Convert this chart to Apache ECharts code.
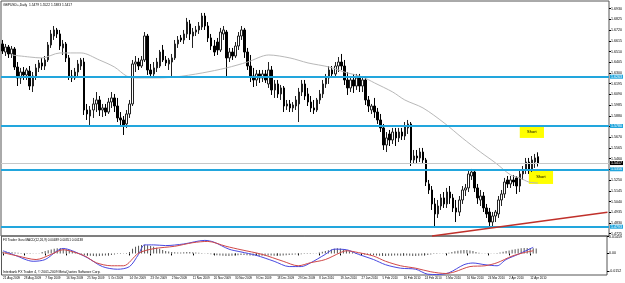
<!DOCTYPE html>
<html>
<head>
<meta charset="utf-8">
<script src="https://cdn.jsdelivr.net/npm/echarts@6/dist/echarts.min.js"></script>
<style>
  html, body { margin: 0; padding: 0; background: #fff; }
  #chart { width: 625px; height: 283px; }
</style>
</head>
<body>
<div id="chart"></div>
<script>
// GBPUSD+ daily bars, each row [open, high, low, close]
const candles = [
  [1.6584,1.6623,1.6486,1.6515],[1.6505,1.6584,1.6466,1.6554],[1.6554,1.6574,1.6447,1.6486],[1.6486,1.6564,1.6447,1.6535],
  [1.6535,1.6554,1.6329,1.6358],[1.6358,1.6407,1.6172,1.6251],[1.6251,1.6349,1.6192,1.6309],[1.6309,1.6358,1.6231,1.6280],
  [1.6280,1.6349,1.6231,1.6329],[1.6319,1.6368,1.6133,1.6172],[1.6172,1.6309,1.6113,1.6270],[1.6270,1.6388,1.6231,1.6349],
  [1.6349,1.6427,1.6309,1.6398],[1.6398,1.6447,1.6329,1.6368],[1.6368,1.6466,1.6329,1.6427],[1.6427,1.6603,1.6407,1.6574],
  [1.6574,1.6721,1.6545,1.6682],[1.6662,1.6760,1.6623,1.6721],[1.6721,1.6741,1.6643,1.6682],[1.6682,1.6721,1.6525,1.6564],
  [1.6545,1.6623,1.6476,1.6584],[1.6584,1.6603,1.6407,1.6447],[1.6447,1.6476,1.6231,1.6270],[1.6270,1.6329,1.6211,1.6251],
  [1.6251,1.6349,1.6231,1.6309],[1.6309,1.6427,1.6270,1.6388],[1.6368,1.6447,1.6329,1.6427],[1.6407,1.6447,1.5888,1.5937],
  [1.5937,1.5996,1.5839,1.5898],[1.5878,1.5976,1.5790,1.5937],[1.5937,1.6055,1.5859,1.5996],[1.5996,1.6113,1.5917,1.6035],
  [1.6035,1.6074,1.5878,1.5937],[1.5937,1.5996,1.5868,1.5957],[1.5957,1.5996,1.5878,1.5917],[1.5917,1.6055,1.5898,1.6015],
  [1.6015,1.6113,1.5957,1.6055],[1.6055,1.6094,1.5917,1.5976],[1.5976,1.6055,1.5819,1.5859],[1.5859,1.5917,1.5780,1.5839],
  [1.5839,1.5878,1.5692,1.5780],[1.5800,1.5937,1.5761,1.5898],[1.5898,1.6035,1.5859,1.5996],[1.5996,1.6427,1.5976,1.6388],
  [1.6388,1.6466,1.6309,1.6407],[1.6407,1.6447,1.6329,1.6368],[1.6368,1.6466,1.6349,1.6427],[1.6427,1.6701,1.6407,1.6662],
  [1.6662,1.6682,1.6280,1.6329],[1.6329,1.6388,1.6251,1.6290],[1.6290,1.6407,1.6251,1.6349],[1.6349,1.6447,1.6309,1.6407],
  [1.6368,1.6525,1.6349,1.6505],[1.6525,1.6574,1.6407,1.6427],[1.6427,1.6466,1.6368,1.6398],[1.6388,1.6447,1.6329,1.6427],
  [1.6407,1.6486,1.6260,1.6447],[1.6447,1.6623,1.6427,1.6584],[1.6584,1.6662,1.6545,1.6623],[1.6643,1.6672,1.6603,1.6623],
  [1.6623,1.6721,1.6584,1.6682],[1.6682,1.6839,1.6643,1.6799],[1.6780,1.6819,1.6623,1.6682],[1.6662,1.6741,1.6545,1.6701],
  [1.6701,1.6760,1.6662,1.6721],[1.6721,1.6799,1.6682,1.6760],[1.6750,1.6888,1.6721,1.6858],[1.6858,1.6888,1.6721,1.6760],
  [1.6760,1.6799,1.6603,1.6643],[1.6643,1.6682,1.6525,1.6564],[1.6564,1.6623,1.6466,1.6505],[1.6603,1.6643,1.6476,1.6525],
  [1.6525,1.6741,1.6505,1.6701],[1.6682,1.6760,1.6623,1.6721],[1.6701,1.6721,1.6260,1.6447],[1.6447,1.6545,1.6407,1.6505],
  [1.6505,1.6545,1.6427,1.6466],[1.6466,1.6603,1.6447,1.6564],[1.6564,1.6701,1.6525,1.6662],[1.6662,1.6760,1.6623,1.6721],
  [1.6721,1.6741,1.6447,1.6505],[1.6505,1.6545,1.6329,1.6368],[1.6368,1.6476,1.6211,1.6270],[1.6270,1.6349,1.6162,1.6231],
  [1.6231,1.6329,1.6172,1.6290],[1.6290,1.6329,1.6202,1.6251],[1.6251,1.6329,1.6211,1.6290],[1.6290,1.6329,1.6202,1.6231],
  [1.6192,1.6407,1.6153,1.6329],[1.6329,1.6368,1.6084,1.6133],[1.6133,1.6231,1.6055,1.6192],[1.6192,1.6231,1.6055,1.6094],
  [1.6094,1.6182,1.6035,1.6153],[1.6153,1.6172,1.5917,1.5976],[1.5976,1.6035,1.5937,1.5996],[1.5996,1.6035,1.5917,1.5957],
  [1.5957,1.6015,1.5917,1.5986],[1.5976,1.6074,1.5937,1.6035],[1.5996,1.6153,1.5819,1.6113],[1.6113,1.6231,1.6074,1.6192],
  [1.6192,1.6231,1.6035,1.6074],[1.6094,1.6153,1.5976,1.6015],[1.6015,1.6074,1.5917,1.5957],[1.5957,1.6035,1.5898,1.5937],
  [1.5937,1.6055,1.5917,1.6035],[1.6035,1.6133,1.5996,1.6094],[1.6094,1.6231,1.6055,1.6192],[1.6192,1.6290,1.6153,1.6251],
  [1.6251,1.6368,1.6192,1.6329],[1.6329,1.6368,1.6251,1.6290],[1.6290,1.6407,1.6251,1.6368],[1.6368,1.6456,1.6309,1.6407],
  [1.6407,1.6486,1.6329,1.6368],[1.6368,1.6427,1.6182,1.6231],[1.6231,1.6309,1.6084,1.6153],[1.6153,1.6270,1.6113,1.6231],
  [1.6231,1.6290,1.6104,1.6172],[1.6172,1.6290,1.6133,1.6251],[1.6251,1.6290,1.6113,1.6172],[1.6172,1.6270,1.6113,1.6231],
  [1.6231,1.6251,1.5986,1.6035],[1.6035,1.6074,1.5917,1.5976],[1.5937,1.5996,1.5898,1.5976],[1.5976,1.6055,1.5859,1.5917],
  [1.5917,1.5957,1.5800,1.5839],[1.5839,1.5898,1.5721,1.5761],[1.5761,1.5800,1.5545,1.5594],[1.5594,1.5721,1.5525,1.5663],
  [1.5702,1.5741,1.5584,1.5643],[1.5643,1.5761,1.5604,1.5721],[1.5721,1.5761,1.5584,1.5663],[1.5663,1.5761,1.5623,1.5721],
  [1.5721,1.5761,1.5643,1.5682],[1.5682,1.5819,1.5643,1.5780],[1.5761,1.5839,1.5702,1.5800],[1.5800,1.5819,1.5388,1.5447],
  [1.5447,1.5545,1.5408,1.5486],[1.5486,1.5545,1.5418,1.5467],[1.5467,1.5565,1.5427,1.5525],[1.5525,1.5565,1.5418,1.5447],
  [1.5447,1.5467,1.5192,1.5231],[1.5212,1.5251,1.5114,1.5153],[1.5153,1.5192,1.4957,1.5016],[1.5016,1.5075,1.4781,1.4918],
  [1.4918,1.5055,1.4879,1.4996],[1.4996,1.5114,1.4957,1.5075],[1.5075,1.5133,1.4977,1.5016],[1.5016,1.5173,1.4977,1.5133],
  [1.5133,1.5192,1.5016,1.5075],[1.5075,1.5114,1.4937,1.4977],[1.4977,1.5055,1.4839,1.4937],[1.4937,1.5094,1.4898,1.5055],
  [1.5055,1.5192,1.5016,1.5153],[1.5153,1.5212,1.5094,1.5173],[1.5173,1.5349,1.5133,1.5310],[1.5290,1.5359,1.5251,1.5329],
  [1.5329,1.5349,1.5133,1.5173],[1.5173,1.5212,1.5016,1.5075],[1.5055,1.5153,1.4996,1.5094],[1.5094,1.5133,1.4937,1.4977],
  [1.4977,1.5016,1.4879,1.4918],[1.4937,1.4977,1.4790,1.4839],[1.4839,1.4937,1.4790,1.4898],[1.4898,1.4957,1.4839,1.4937],
  [1.4918,1.5094,1.4879,1.5055],[1.5055,1.5153,1.4996,1.5114],[1.5114,1.5271,1.5075,1.5231],[1.5251,1.5290,1.5173,1.5212],
  [1.5212,1.5290,1.5173,1.5251],[1.5251,1.5300,1.5192,1.5231],[1.5271,1.5290,1.5114,1.5192],[1.5192,1.5349,1.5133,1.5310],
  [1.5310,1.5388,1.5251,1.5349],[1.5349,1.5467,1.5310,1.5427],[1.5427,1.5467,1.5310,1.5349],[1.5349,1.5486,1.5329,1.5447],
  [1.5427,1.5506,1.5369,1.5467],[1.5479,1.5522,1.5383,1.5417]
];

// one label every 7 bars
const dateLabels = [
  '21 Aug 2009', '28 Aug 2009', '7 Sep 2009', '16 Sep 2009', '25 Sep 2009', '5 Oct 2009', '14 Oct 2009',
  '23 Oct 2009', '2 Nov 2009', '11 Nov 2009', '20 Nov 2009', '30 Nov 2009', '9 Dec 2009', '18 Dec 2009',
  '29 Dec 2009', '8 Jan 2010', '19 Jan 2010', '27 Jan 2010', '5 Feb 2010', '16 Feb 2010', '24 Feb 2010',
  '5 Mar 2010', '16 Mar 2010', '24 Mar 2010', '2 Apr 2010', '12 Apr 2010'
];

const priceTicks = [
  1.4725, 1.4830, 1.4935, 1.5040, 1.5145, 1.5250, 1.5355, 1.5460, 1.5565, 1.5670, 1.5775,
  1.5880, 1.5985, 1.6090, 1.6195, 1.6300, 1.6405, 1.6510, 1.6615, 1.6720, 1.6825, 1.6930
];
const macdTicks = [0.01459, 0, -0.0152];

// horizontal support / resistance lines
const levels = [1.6263, 1.5780, 1.5356, 1.4793];
const lastPrice = 1.5417;
// rising trend line [bar, price]
const trendLine = [[142, 1.4702], [200, 1.4935]];
// "Short" notes: [fromBar, toBar, upper price, lower price]
const shortNotes = [[171, 179, 1.5775, 1.5663], [174, 182, 1.5349, 1.5212]];

// moving average, read at [bar, price]
const maLine = [
  [3,1.6476],[9,1.6456],[13,1.6447],[19,1.6496],[26,1.6496],[32,1.6427],[37,1.6358],[41,1.6270],
  [44,1.6251],[50,1.6251],[57,1.6260],[66,1.6300],[74,1.6349],[81,1.6407],[88,1.6476],[95,1.6447],
  [101,1.6398],[108,1.6358],[113,1.6309],[119,1.6260],[123,1.6202],[129,1.6113],[133,1.6035],[139,1.5957],
  [146,1.5810],[152,1.5663],[158,1.5525],[163,1.5418],[168,1.5300],[171,1.5271],[174,1.5231],[177,1.5221]
];

// MACD main (blue) and signal (red), read at [bar, value]
const macdMain = [
  [0,0.0023],[4,-0.0016],[10,-0.0068],[14,-0.0053],[18,0.0023],[20,0.0043],[23,0.0023],[28,-0.0037],
  [33,-0.0114],[38,-0.0137],[42,-0.0114],[45,-0.0008],[47,0.0074],[50,0.0074],[54,0.0068],[60,0.0082],
  [67,0.0113],[70,0.0098],[75,0.0037],[79,0.0013],[84,-0.0016],[90,-0.0068],[95,-0.0114],[99,-0.0114],
  [102,-0.0083],[107,-0.0008],[110,0.0037],[114,0.0032],[118,-0.0008],[123,-0.0053],[127,-0.0098],[132,-0.0128],
  [137,-0.0137],[141,-0.0180],[144,-0.0183],[148,-0.0168],[153,-0.0098],[156,-0.0083],[160,-0.0098],[164,-0.0107],
  [167,-0.0053],[171,-0.0008],[176,0.0053]
];
const macdSignal = [
  [0,0.0007],[5,-0.0023],[11,-0.0053],[16,-0.0008],[20,0.0032],[22,0.0023],[27,-0.0020],[31,-0.0081],
  [36,-0.0107],[40,-0.0107],[45,0.0002],[50,0.0041],[57,0.0062],[63,0.0093],[68,0.0104],[74,0.0062],
  [79,0.0032],[86,-0.0008],[93,-0.0068],[98,-0.0107],[102,-0.0081],[107,-0.0053],[112,0.0007],[114,0.0023],
  [118,0.0007],[123,-0.0023],[127,-0.0068],[132,-0.0107],[137,-0.0128],[142,-0.0159],[147,-0.0174],[150,-0.0159],
  [155,-0.0114],[160,-0.0107],[164,-0.0081],[169,-0.0023],[173,0.0007],[176,0.0023]
];
// histogram, one value per bar
const macdHist = [
  0.0015,0.0014,0.0012,0.0010,0.0008,0.0005,0.0003,
  -0.0003,-0.0005,-0.0004,-0.0003,-0.0002,0.0002,
  0.0012,0.0020,0.0028,0.0034,0.0040,0.0044,0.0046,0.0042,0.0036,0.0028,
  0.0018,0.0008,-0.0004,-0.0010,-0.0014,-0.0018,-0.0020,-0.0022,-0.0024,-0.0022,-0.0020,-0.0018,-0.0016,-0.0014,-0.0010,
  -0.0006,-0.0004,-0.0002,0.0004,0.0012,
  0.0040,0.0058,0.0066,0.0072,0.0076,0.0070,0.0064,0.0058,0.0050,0.0040,0.0030,
  0.0022,0.0016,0.0012,0.0010,0.0008,0.0008,0.0010,0.0012,0.0012,0.0010,0.0008,0.0006,0.0004,0.0002,
  -0.0004,-0.0008,-0.0012,-0.0016,-0.0018,-0.0020,-0.0022,-0.0022,-0.0020,-0.0018,
  -0.0016,-0.0014,-0.0014,-0.0016,-0.0018,-0.0020,-0.0022,-0.0022,-0.0020,-0.0020,
  -0.0018,-0.0018,-0.0020,-0.0022,-0.0020,-0.0018,-0.0016,-0.0014,-0.0012,-0.0010,
  -0.0010,-0.0008,-0.0006,-0.0006,-0.0004,-0.0002,0.0002,0.0008,0.0014,0.0020,
  0.0028,0.0034,0.0040,0.0044,0.0042,0.0036,0.0028,0.0018,
  0.0010,0.0004,-0.0002,-0.0006,-0.0010,-0.0012,
  -0.0014,-0.0016,-0.0018,-0.0020,-0.0022,-0.0022,-0.0020,-0.0020,-0.0018,-0.0018,
  -0.0020,-0.0020,-0.0018,-0.0020,-0.0022,-0.0022,-0.0020,-0.0018,-0.0016,-0.0014,
  -0.0010,-0.0006,-0.0004,-0.0002,0.0002,0.0004,0.0006,
  0.0012,0.0018,0.0024,0.0028,0.0030,0.0030,0.0026,0.0020,0.0012,
  0.0006,0.0002,-0.0002,-0.0004,-0.0002,0.0002,0.0004,0.0008,
  0.0014,0.0020,0.0026,0.0032,0.0036,0.0040,0.0044,0.0046,0.0048,0.0046,0.0044,0.0042
];

// chart shift: empty slots to the right of the last bar
const totalSlots = 201;
const slots = [];
for (let i = 0; i < totalSlots; i++) slots.push(String(i));

const FONT = 'Liberation Sans';
const LEVEL_BLUE = '#22a6dd';
const tiny = { fontSize: 3.6, fontFamily: FONT, color: '#000' };

const isDateSlot = (idx) => idx % 7 === 0 && idx / 7 < dateLabels.length;

const chart = echarts.init(document.getElementById('chart'), null, { renderer: 'canvas' });

chart.setOption({
  animation: false,
  backgroundColor: '#fff',
  grid: [
    { left: 1, right: 15, top: 1, height: 235, show: true, borderColor: '#555', borderWidth: 1 },
    { left: 1, right: 15, top: 236, height: 39, show: true, borderColor: '#555', borderWidth: 1 }
  ],
  xAxis: [
    {
      type: 'category', gridIndex: 0, data: slots, boundaryGap: true,
      axisLine: { show: false }, axisTick: { show: false }, axisLabel: { show: false }, splitLine: { show: false }
    },
    {
      type: 'category', gridIndex: 1, data: slots, boundaryGap: true,
      axisLine: { show: false },
      axisTick: { show: true, interval: isDateSlot, length: 2, alignWithLabel: true, lineStyle: { color: '#000' } },
      axisLabel: Object.assign({
        interval: isDateSlot, margin: 2, align: 'left',
        formatter: (v, idx) => dateLabels[idx / 7] || ''
      }, tiny, { fontSize: 3 }),
      splitLine: { show: false }
    }
  ],
  yAxis: [
    {
      type: 'value', gridIndex: 0, position: 'right', min: 1.4702, max: 1.7005,
      splitLine: { show: false },
      axisLine: { show: false },
      axisTick: { show: true, customValues: priceTicks, length: 2, lineStyle: { color: '#000' } },
      axisLabel: Object.assign({ customValues: priceTicks, margin: 2, formatter: (v) => v.toFixed(4) }, tiny)
    },
    {
      type: 'value', gridIndex: 1, position: 'right', min: -0.0187, max: 0.0151,
      splitLine: { show: false },
      axisLine: { show: false },
      axisTick: { show: true, customValues: macdTicks, length: 2, lineStyle: { color: '#000' } },
      axisLabel: Object.assign({ customValues: macdTicks, margin: 2, formatter: (v) => (v === 0 ? '0.00' : String(v)) }, tiny)
    }
  ],
  series: [
    {
      name: 'GBPUSD+', type: 'candlestick', xAxisIndex: 0, yAxisIndex: 0, barWidth: 2,
      data: candles.map(([o, h, l, c]) => [o, c, l, h]),
      itemStyle: { color: '#fff', color0: '#000', borderColor: '#222', borderColor0: '#000', borderWidth: 1 },
      markArea: {
        silent: true,
        itemStyle: { color: '#ffff00', opacity: 1 },
        label: Object.assign({ show: true, position: 'inside', formatter: 'Short' }, tiny, { fontSize: 4 }),
        data: shortNotes.map(([a, b, top, bottom]) => [{ xAxis: a, yAxis: top }, { xAxis: b, yAxis: bottom }])
      },
      markLine: {
        silent: true,
        precision: 4,
        symbol: ['none', 'none'],
        data: [
          {
            yAxis: lastPrice,
            lineStyle: { color: '#c8c8c8', width: 1, type: 'solid' },
            label: Object.assign({ show: true, position: 'end', distance: 1, backgroundColor: '#000', padding: [0, 1],
              formatter: () => lastPrice.toFixed(4) }, tiny, { color: '#fff' })
          },
          ...levels.map((v) => ({
            yAxis: v,
            lineStyle: { color: LEVEL_BLUE, width: 2, type: 'solid' },
            label: Object.assign({ show: true, position: 'end', distance: 1, backgroundColor: LEVEL_BLUE, padding: [0, 1],
              formatter: () => v.toFixed(4) }, tiny, { color: '#fff' })
          })),
          [
            { coord: trendLine[0], lineStyle: { color: '#c0302a', width: 1.5, type: 'solid' }, label: { show: false } },
            { coord: trendLine[1] }
          ]
        ]
      }
    },
    {
      name: 'MA', type: 'line', xAxisIndex: 0, yAxisIndex: 0, data: maLine,
      symbol: 'none', smooth: 0.3, silent: true,
      lineStyle: { color: '#b8b8b8', width: 1 }
    },
    {
      name: 'Histogram', type: 'bar', xAxisIndex: 1, yAxisIndex: 1, data: macdHist,
      barWidth: 1, silent: true, itemStyle: { color: '#555' }
    },
    {
      name: 'MACD', type: 'line', xAxisIndex: 1, yAxisIndex: 1, data: macdMain,
      symbol: 'none', smooth: 0.3, silent: true, lineStyle: { color: '#4848e0', width: 1 }
    },
    {
      name: 'Signal', type: 'line', xAxisIndex: 1, yAxisIndex: 1, data: macdSignal,
      symbol: 'none', smooth: 0.3, silent: true, lineStyle: { color: '#d04848', width: 1 }
    }
  ],
  graphic: [
    { type: 'text', left: 3, top: 4, style: { text: 'GBPUSD+,Daily  1.5479 1.5522 1.5383 1.5417', fontSize: 3.3, fontFamily: FONT, fill: '#000' } },
    { type: 'text', left: 3, top: 239, style: { text: 'FX Trader Guru MACD(12,26,9) 0.00489 0.00351 0.00138', fontSize: 3.1, fontFamily: FONT, fill: '#000' } },
    { type: 'text', left: 3, top: 271, style: { text: 'Interbank FX Trader 4, \u00a9 2001-2009 MetaQuotes Software Corp.', fontSize: 3.4, fontFamily: FONT, fill: '#000' } }
  ]
});

window.addEventListener('resize', () => {
  chart.resize();
});
</script>
</body>
</html>
